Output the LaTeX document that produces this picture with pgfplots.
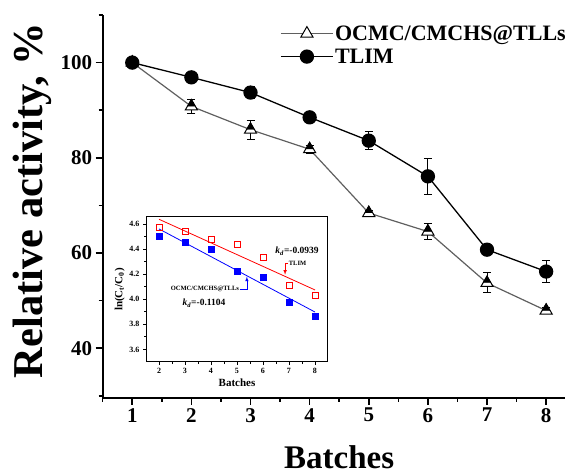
\documentclass[border=0pt]{standalone}
\usepackage{fontspec}
\setmainfont{Liberation Serif}
\usepackage{pgfplots}
\pgfplotsset{compat=1.18}
\definecolor{linegray}{RGB}{95,95,95}
\begin{document}
\begin{tikzpicture}
\begin{axis}[
  at={(0pt,0pt)}, anchor=south west,
  scale only axis, width=473pt, height=382.7pt,
  xmin=0.5, xmax=8.5, ymin=29.6, ymax=110,
  axis x line*=bottom, axis y line*=left,
  axis line style={-, line width=2pt},
  xtick={1,2,3,4,5,6,7,8}, ytick={40,60,80,100},
  minor xtick={0.5,1.5,2.5,3.5,4.5,5.5,6.5,7.5,8.5},
  minor ytick={30,50,70,90,110},
  tick align=outside,
  major tick length=7pt, minor tick length=4pt,
  every tick/.style={black, line width=1.6pt},
  /pgf/number format/assume math mode=true,
  ticklabel style={font=\bfseries\fontsize{21}{24}\selectfont},
  xlabel={Batches}, ylabel={Relative activity, \%},
  every axis x label/.style={at={(axis description cs:0.5,-0.184)}, anchor=base, font=\bfseries\fontsize{33}{38}\selectfont},
  every axis y label/.style={at={(axis description cs:-0.128,0.515)}, rotate=90, anchor=base, font=\bfseries\fontsize{42.5}{48}\selectfont},
  legend image code/.code={\draw[mark repeat=2,mark phase=2,#1] plot coordinates {(0pt,0pt) (26pt,0pt) (52pt,0pt)};},
  legend style={at={(axis description cs:0.375,0.977)}, anchor=north west, draw=none, fill=none,
    font=\bfseries\fontsize{22}{26}\selectfont, inner sep=0pt, row sep=4pt,
    nodes={inner sep=1.5pt}},
  legend cell align=left,
  clip=false,
]
\addplot[color=linegray, line width=1.2pt, mark=triangle*, mark size=7pt,
  mark options={fill=white, draw=black, line width=1pt, solid},
  error bars/.cd, y dir=both, y explicit,
  error bar style={black, line width=1pt},
  error mark options={rotate=90, mark size=4pt, black, line width=1pt}]
coordinates {
  (1,100) +- (0,0)
  (2,90.8) +- (0,1.5)
  (3,85.9) +- (0,2.0)
  (4,81.8) +- (0,0.8)
  (5,68.4) +- (0,0.6)
  (6,64.5) +- (0,1.6)
  (7,53.7) +- (0,2.1)
  (8,47.9) +- (0,0.6)
};
\addlegendentry{OCMC/CMCHS@TLLs}
\addplot[forget plot, only marks, mark=triangle*, mark size=4.5pt,
  mark options={fill=black, draw=black, yshift=2.5pt}]
coordinates {
  (1,100) (2,90.8) (3,85.9) (4,81.8) (5,68.4) (6,64.5) (7,53.7) (8,47.9)
};
\addplot[color=black, line width=1.3pt, mark=*, mark size=6.5pt,
  mark options={fill=black, solid},
  error bars/.cd, y dir=both, y explicit,
  error bar style={black, line width=1pt},
  error mark options={rotate=90, mark size=4pt, black, line width=1pt}]
coordinates {
  (1,100) +- (0,0)
  (2,96.9) +- (0,0.5)
  (3,93.7) +- (0,1.2)
  (4,88.5) +- (0,0.6)
  (5,83.6) +- (0,1.85)
  (6,76.1) +- (0,3.8)
  (7,60.7) +- (0,0.8)
  (8,56.1) +- (0,2.3)
};
\addlegendentry{TLIM}
\end{axis}
\begin{axis}[
  at={(43.3pt,35.7pt)}, anchor=south west,
  scale only axis, width=182pt, height=145pt,
  xmin=1.5, xmax=8.5, ymin=3.5, ymax=4.655,
  xtick={2,3,4,5,6,7,8}, ytick={3.6,3.8,4.0,4.2,4.4,4.6},
  minor tick num=1,
  tick align=outside, xtick pos=left, ytick pos=left,
  axis line style={line width=1pt},
  every tick/.style={black, line width=0.8pt},
  major tick length=3pt, minor tick length=2pt,
  /pgf/number format/assume math mode=true,
  ticklabel style={font=\bfseries\fontsize{8}{9}\selectfont},
  yticklabel style={/pgf/number format/.cd, fixed, fixed zerofill, precision=1},
  xlabel={Batches}, ylabel={ln(C\textsubscript{t}/C\textsubscript{0})},
  label style={font=\bfseries\fontsize{11}{13}\selectfont},
  xlabel style={yshift=2pt}, ylabel style={yshift=-2pt},
  clip=false,
]
\addplot[only marks, mark=square, mark size=3pt, mark options={draw=red, line width=0.7pt}]
coordinates {(2,4.574) (3,4.544) (4,4.48) (5,4.434) (6,4.334) (7,4.11) (8,4.032)};
\addplot[only marks, mark=square*, mark size=3pt, mark options={draw=blue, fill=blue}]
coordinates {(2,4.504) (3,4.453) (4,4.40) (5,4.22) (6,4.174) (7,3.98) (8,3.864)};
\addplot[red, line width=0.8pt] coordinates {(2,4.637) (8,4.074)};
\addplot[blue, line width=0.8pt] coordinates {(2,4.560) (8,3.898)};
\node[font=\bfseries\fontsize{9.5}{11}\selectfont] at (axis cs:7.31,4.384) {\textit{k}\textsubscript{\textit{d}}=-0.0939};
\node[font=\bfseries\fontsize{6.5}{8}\selectfont, anchor=west, inner sep=1pt] at (axis cs:6.95,4.288) {TLIM};
\draw[red, line width=0.6pt, -latex] (axis cs:6.97,4.288) -- (axis cs:6.85,4.288) -- (axis cs:6.85,4.195);
\node[font=\bfseries\fontsize{6.5}{8}\selectfont, anchor=east, inner sep=1pt] at (axis cs:5.12,4.08) {OCMC/CMCHS@TLLs};
\draw[blue, line width=0.6pt, -latex] (axis cs:5.1,4.08) -- (axis cs:5.38,4.08) -- (axis cs:5.38,4.18);
\node[font=\bfseries\fontsize{9.5}{11}\selectfont] at (axis cs:3.73,3.968) {\textit{k}\textsubscript{\textit{d}}=-0.1104};
\end{axis}
\pgfresetboundingbox
\useasboundingbox (-102.7pt,-76.3pt) rectangle (462.3pt,397.7pt);
\end{tikzpicture}
\end{document}
